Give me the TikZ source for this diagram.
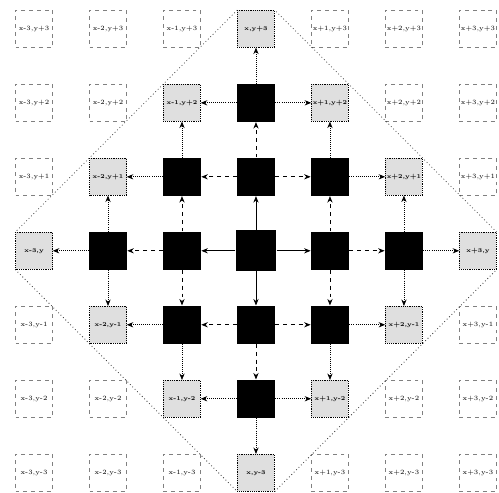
\documentclass[tikz,border=0pt]{standalone}
\usetikzlibrary{arrows.meta}
\newcommand{\offs}[2]{#1\ifnum#2>0 +#2\fi\ifnum#2<0 #2\fi}
\begin{document}
\begin{tikzpicture}[>={Stealth[length=5pt,width=4pt]},
  cell/.style={draw=gray, dashed, minimum size=1cm, inner sep=0pt, font=\tiny},
  ring/.style={draw, densely dotted, fill=gray!25, minimum size=1cm, inner sep=0pt,
    font=\fontsize{4.5pt}{5pt}\selectfont\bfseries},
  hit/.style={fill=black, inner sep=0pt}]
  \useasboundingbox (-6.92,-6.54) rectangle (6.57,6.78);
  % grid of cells, coloured by distance from (x,y)
  \foreach \i in {-3,...,3}
    \foreach \j in {-3,...,3} {
      \pgfmathtruncatemacro\a{\i+3}
      \pgfmathtruncatemacro\b{\j+3}
      \pgfmathtruncatemacro\d{abs(\i)+abs(\j)}
      \pgfmathsetmacro\sz{\d==0 ? 1.1 : 1.03}
      \ifnum\d<3
        \node[hit, minimum size=\sz cm] (c\a\b) at (2*\i,2*\j) {};
      \else\ifnum\d=3
        \node[ring] (c\a\b) at (2*\i,2*\j) {\offs{x}{\i},\offs{y}{\j}};
      \else
        \node[cell] (c\a\b) at (2*\i,2*\j) {\offs{x}{\i},\offs{y}{\j}};
      \fi\fi
    }
  % diamond
  \draw[black!80, dotted, semithick] (c36.north west) -- (c03.north west)
    (c03.south west) -- (c30.south west)
    (c30.south east) -- (c63.south east)
    (c63.north east) -- (c36.north east);
  % step 1
  \foreach \s/\t in {c33/c34, c33/c23, c33/c43, c33/c32}
    \draw[->, semithick] (\s) -- (\t);
  % step 2
  \foreach \s/\t in {c34/c35, c34/c24, c34/c44, c23/c13, c23/c24, c23/c22,
                     c43/c53, c43/c44, c43/c42, c32/c31, c32/c22, c32/c42}
    \draw[->, semithick, dashed] (\s) -- (\t);
  % step 3
  \foreach \s/\t in {c35/c36, c35/c25, c35/c45, c24/c25, c24/c14, c44/c45, c44/c54,
                     c13/c03, c13/c14, c13/c12, c53/c63, c53/c54, c53/c52,
                     c22/c12, c22/c21, c42/c52, c42/c41, c31/c30, c31/c21, c31/c41}
    \draw[->, semithick, densely dotted] (\s) -- (\t);
\end{tikzpicture}
\end{document}
